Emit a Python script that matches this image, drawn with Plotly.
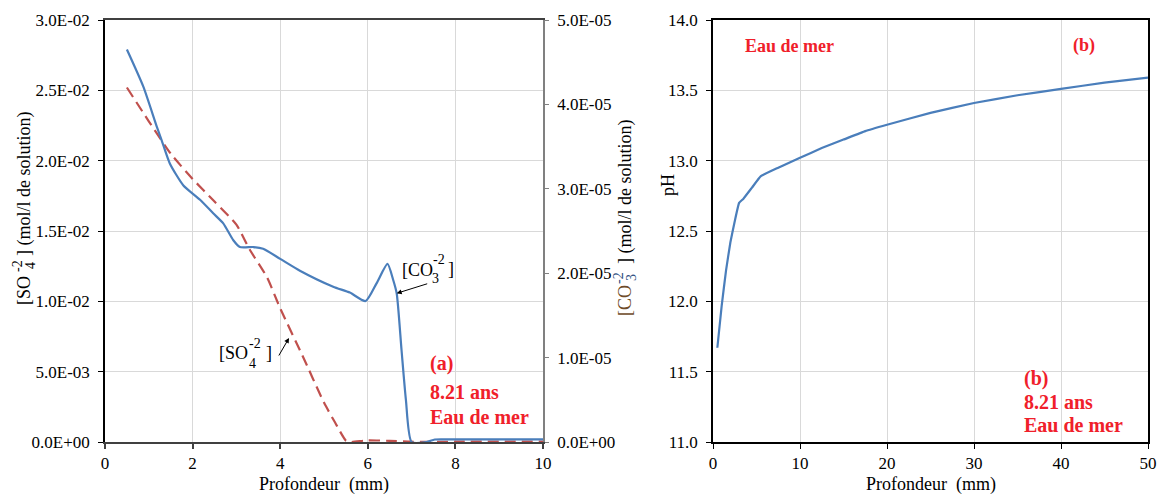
import plotly.graph_objects as go

# ---------------- data ----------------
depth_so4 = [0.5, 1.0, 1.5, 2.0, 2.5, 3.0, 3.3, 3.7, 4.0, 4.5, 5.0, 5.25, 5.5, 5.6, 6.0, 6.5, 7.0, 8.0, 10.0]
so4 = [0.0252, 0.0228, 0.0205, 0.0187, 0.0171, 0.01545, 0.0137, 0.0117, 0.0095, 0.0062, 0.0028,
       0.0014, 0.0001, 0.0, 0.00012, 0.00008, 0.00002, 0.00002, 0.00002]

depth_co3 = [0.5, 0.875, 1.18, 1.29, 1.48, 1.79, 2.17, 2.47, 2.70, 2.93, 3.08, 3.39, 3.61, 4.0, 4.45,
             5.21, 5.59, 5.95, 6.2, 6.45, 6.58, 6.66, 6.77, 6.87, 7.0, 7.34, 7.53, 8.0, 9.0, 10.0]
co3 = [4.65e-5, 4.21e-5, 3.74e-5, 3.58e-5, 3.30e-5, 3.04e-5, 2.87e-5, 2.71e-5, 2.59e-5, 2.39e-5, 2.31e-5,
       2.31e-5, 2.29e-5, 2.17e-5, 2.03e-5, 1.84e-5, 1.77e-5, 1.67e-5, 1.88e-5, 2.11e-5, 1.92e-5, 1.76e-5,
       1.09e-5, 0.5e-5, 0.0, 0.0, 0.03e-5, 0.03e-5, 0.03e-5, 0.03e-5]

depth_ph = [0.5, 1.0, 1.5, 2.0, 2.5, 3.0, 3.5, 4.5, 5.5, 7.5, 10, 12.5, 15, 17.5, 20, 25, 30, 35, 40, 45, 50]
ph = [11.67, 11.97, 12.22, 12.42, 12.57, 12.70, 12.73, 12.81, 12.89, 12.95, 13.02, 13.09, 13.15, 13.21,
      13.255, 13.34, 13.41, 13.465, 13.51, 13.555, 13.59]

so4_ticks = [0, 0.005, 0.01, 0.015, 0.02, 0.025, 0.03]
so4_ticktext = ["0.0E+00", "5.0E-03", "1.0E-02", "1.5E-02", "2.0E-02", "2.5E-02", "3.0E-02"]
co3_ticks = [0, 1e-5, 2e-5, 3e-5, 4e-5, 5e-5]
co3_ticktext = ["0.0E+00", "1.0E-05", "2.0E-05", "3.0E-05", "4.0E-05", "5.0E-05"]

# ---------------- layout helpers ----------------
W, H = 1159, 496
TOP, BOT = 20, 442          # plot area in pixels
FONT = "Liberation Serif"
RED = "#F0202A"

def px(x):
    return x / W

def py(y):
    return (BOT - y) / (BOT - TOP)

fig = go.Figure()

fig.add_trace(go.Scatter(x=depth_so4, y=so4, mode="lines", xaxis="x", yaxis="y",
                         line=dict(color="#C0504D", width=2.2, dash="11px,6px", shape="spline", smoothing=0.6),
                         showlegend=False))
fig.add_trace(go.Scatter(x=depth_co3, y=co3, mode="lines", xaxis="x", yaxis="y2",
                         line=dict(color="#4A7EBB", width=2.2, shape="spline", smoothing=0.6),
                         showlegend=False))
fig.add_trace(go.Scatter(x=depth_ph, y=ph, mode="lines", xaxis="x3", yaxis="y3",
                         line=dict(color="#4A7EBB", width=2.2, shape="spline", smoothing=0.3),
                         showlegend=False))

tickfont = dict(family=FONT, size=17, color="#000000")
grid = "#D9D9D9"

fig.update_layout(
    width=W, height=H,
    margin=dict(l=0, r=0, t=TOP, b=H - BOT, autoexpand=False),
    paper_bgcolor="white", plot_bgcolor="white",
    font=dict(family=FONT, color="#000000"),
    xaxis=dict(domain=[px(105), px(543)], range=[0, 10], dtick=2, anchor="y", automargin=False,
               showgrid=True, gridcolor=grid, zeroline=False,
               showline=True, linecolor="#404040", linewidth=1.6, mirror=True,
               ticks="outside", ticklen=5, tickcolor="#404040", tickwidth=1.5, tickfont=tickfont),
    yaxis=dict(range=[0, 0.03], tickvals=so4_ticks, ticktext=so4_ticktext, anchor="x", automargin=False,
               showgrid=True, gridcolor=grid, zeroline=False,
               showline=True, linecolor="#000000", linewidth=1.5, ticklabelstandoff=5,
               ticks="outside", ticklen=5, tickcolor="#000000", tickfont=tickfont),
    yaxis2=dict(range=[0, 5e-5], tickvals=co3_ticks, ticktext=co3_ticktext, anchor="x", automargin=False,
                overlaying="y", side="right", showgrid=False, zeroline=False,
                showline=True, linecolor="#808080", linewidth=1.5, ticklabelstandoff=5,
                ticks="outside", ticklen=4, tickcolor="#808080", tickfont=tickfont),
    xaxis3=dict(domain=[px(713), px(1148)], range=[0, 50], dtick=10, anchor="y3", automargin=False,
                showgrid=True, gridcolor=grid, zeroline=False,
                showline=True, linecolor="#000000", linewidth=1.5, mirror=True,
                ticks="outside", ticklen=5, tickcolor="#000000", tickfont=tickfont),
    yaxis3=dict(range=[11, 14], dtick=0.5, tickformat=".1f", anchor="x3", automargin=False,
                showgrid=True, gridcolor=grid, zeroline=False,
                showline=True, linecolor="#000000", linewidth=1.5, mirror=True, ticklabelstandoff=5,
                ticks="outside", ticklen=5, tickcolor="#000000", tickfont=tickfont),
)

ann = []

def txt(x, y, s, size=18, color="#000000", xanchor="center", angle=0, bold=False):
    if bold:
        s = "<b>" + s + "</b>"
    ann.append(dict(xref="paper", yref="paper", x=px(x), y=py(y), text=s, showarrow=False,
                    xanchor=xanchor, yanchor="middle", textangle=angle,
                    font=dict(family=FONT, size=size, color=color)))

# axis titles
txt(324, 485, "Profondeur  (mm)", size=18)
txt(931, 485, "Profondeur  (mm)", size=18)
txt(668, 185, "pH", size=18, angle=-90)

# left y title (rotated, stacked sub/sup)
txt(24, 290, "[SO", size=18, angle=-90)
txt(17, 266, "-2", size=14, angle=-90)
txt(30, 266, "4", size=14, angle=-90)
txt(24, 184, "] (mol/l de solution)", size=18, angle=-90)

# secondary y title
txt(625, 301, "[CO", size=18, angle=-90, color="#6E4B2A")
txt(618, 278, "-2", size=14, angle=-90, color="#2F4F7F")
txt(631, 278, "3", size=14, angle=-90, color="#2F4F7F")
txt(625, 192, "] (mol/l de solution)", size=18, angle=-90)

# curve labels
txt(217, 353, "[SO", size=18, xanchor="left")
txt(247, 343, "-2", size=14, xanchor="left")
txt(247, 363, "4", size=14, xanchor="left")
txt(264, 353, "]", size=18, xanchor="left")

txt(400, 270, "[CO", size=18, xanchor="left")
txt(431, 259, "-2", size=14, xanchor="left")
txt(430, 278, "3", size=14, xanchor="left")
txt(446, 269, "]", size=18, xanchor="left")

# arrows
ann.append(dict(xref="x", yref="y", x=(289 - 105) / 43.8, y=(442 - 338) * 0.03 / 422,
                ax=-11, ay=19, text="", showarrow=True, arrowhead=2, arrowsize=1, arrowwidth=1,
                arrowcolor="#000000"))
ann.append(dict(xref="x", yref="y2", x=(396.7 - 105) / 43.8, y=(442 - 293.3) * 5e-5 / 422,
                ax=32, ay=-10, text="", showarrow=True, arrowhead=2, arrowsize=1, arrowwidth=1,
                arrowcolor="#000000"))

# red labels
txt(428, 363, "(a)", size=20, color=RED, xanchor="left", bold=True)
txt(428, 392, "8.21 ans", size=20, color=RED, xanchor="left", bold=True)
txt(428, 417, "Eau de mer", size=20, color=RED, xanchor="left", bold=True)

txt(743, 46, "Eau de mer", size=18, color=RED, xanchor="left", bold=True)
txt(1071, 46, "(b)", size=18, color=RED, xanchor="left", bold=True)

txt(1022, 378, "(b)", size=20, color=RED, xanchor="left", bold=True)
txt(1022, 402, "8.21 ans", size=20, color=RED, xanchor="left", bold=True)
txt(1022, 425, "Eau de mer", size=20, color=RED, xanchor="left", bold=True)

fig.update_layout(annotations=ann)

fig.write_html("out.html", config={"displayModeBar": False},
               post_script="document.body.style.margin='0px';document.body.style.overflow='hidden';")
